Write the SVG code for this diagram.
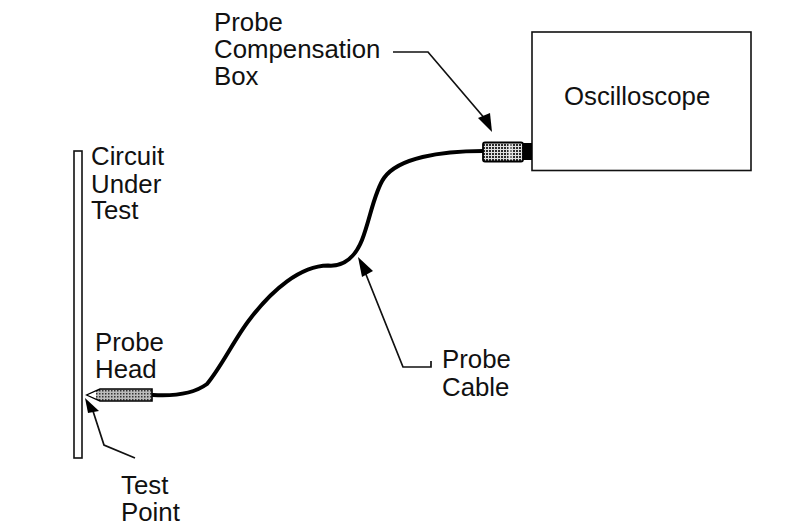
<svg xmlns="http://www.w3.org/2000/svg" width="800" height="526" viewBox="0 0 800 526">
<defs>
<pattern id="dots" width="3" height="3" patternUnits="userSpaceOnUse"><rect width="3" height="3" fill="#e0e0e0"/><rect width="2" height="2" fill="#2a2a2a"/></pattern>
<pattern id="dots2" width="3" height="3" patternUnits="userSpaceOnUse"><rect width="3" height="3" fill="#bbb"/><rect width="1.500" height="1.500" fill="#333"/></pattern>
</defs>
<style>
text{font-family:"Liberation Sans",Arial,sans-serif;font-size:25.800px;fill:#111}
.box{fill:#fff;stroke:#111;stroke-width:1.600}
.lead{fill:none;stroke:#111;stroke-width:1.700}
.head{fill:#000;stroke:none}
.cable{fill:none;stroke:#000;stroke-width:4;stroke-linecap:round}
</style>
<rect width="800" height="526" fill="#fff"/>
<g id="connectors">
<path class="cable" d="M153 395C170 396 192 395 207 384C222 366 235 338 250 319C272 290 300 266 328 265.500C345 267 356 255 362 240C370 220 374 192 384 178C398 158 440 151 483 151"/>
<path class="lead" d="M393 52H428L486 120"/>
<path class="head" d="M478 118L490 113L492 132Z"/>
<path class="lead" d="M431 361V367H403L365 272"/>
<path class="head" d="M358 257L373 271L362 277Z"/>
<path class="lead" d="M135 458L104 445L92 408"/>
<path class="head" d="M85 398L99 411L88 413Z"/>
</g>
<g id="oscilloscope"><rect class="box" x="532" y="32" width="219" height="138.500"/><text x="564" y="105">Oscilloscope</text></g>
<g id="compensation-box">
<path d="M523 143H532V160H523Z" fill="#000"/>
<rect x="483" y="142.500" width="40" height="19" rx="2" fill="url(#dots)" stroke="#000" stroke-width="1.800"/>
<rect x="508" y="144" width="4" height="16" fill="#fff" opacity=".4"/>
</g>
<g id="circuit-under-test"><rect class="box" x="74" y="151" width="8" height="307"/></g>
<g id="probe-head"><path d="M87 395L100 389H152V401H100Z" fill="url(#dots2)" stroke="#000" stroke-width="1.600"/><path d="M88 395L96 391.500V398.500Z" fill="#fff" stroke="none"/></g>
<g id="labels">
<text x="214" y="31">Probe</text><text x="214" y="58">Compensation</text><text x="214" y="85">Box</text>
<text x="91" y="165">Circuit</text><text x="91" y="193">Under</text><text x="91" y="219">Test</text>
<text x="95" y="351">Probe</text><text x="95" y="378">Head</text>
<text x="442" y="368">Probe</text><text x="442" y="396">Cable</text>
<text x="121" y="494">Test</text><text x="121" y="521">Point</text>
</g>
</svg>
